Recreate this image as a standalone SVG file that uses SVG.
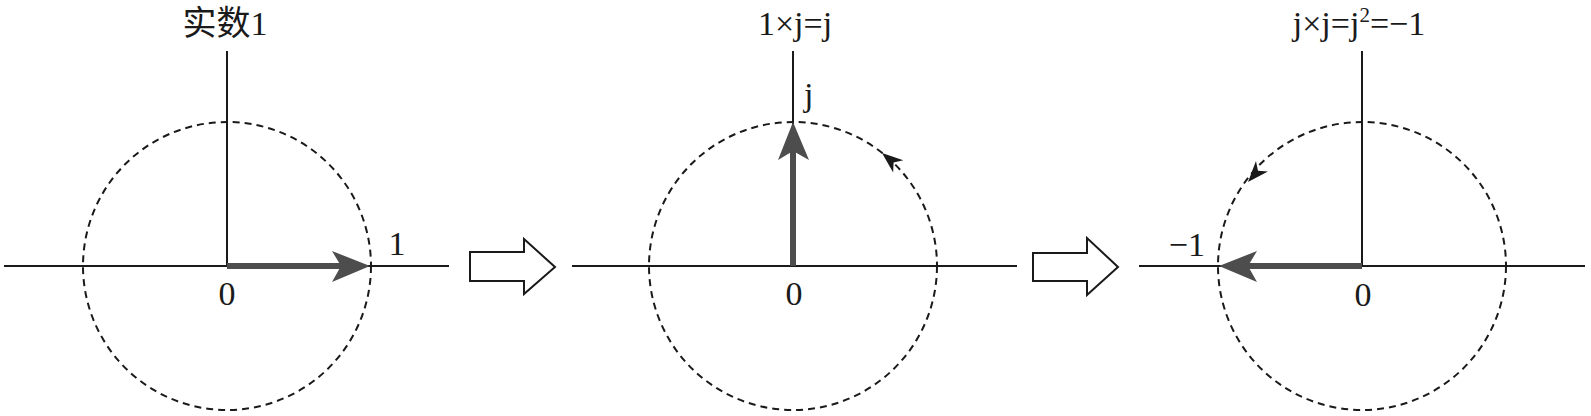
<svg xmlns="http://www.w3.org/2000/svg" width="1591" height="416" viewBox="0 0 1591 416">
<style>
.ax{stroke:#1a1a1a;stroke-width:2;fill:none}
.circ{stroke:#1a1a1a;stroke-width:2;fill:none;stroke-dasharray:7 5}
.vec{stroke:#4d4d4d;stroke-width:6;fill:none}
.head{fill:#4d4d4d}
.small{fill:#1a1a1a}
.blk{fill:#fff;stroke:#1a1a1a;stroke-width:2;stroke-linejoin:miter}
text{font-family:"Liberation Serif","Noto Sans CJK SC",serif;font-size:34px;fill:#1a1a1a}
.mid{text-anchor:middle}
</style>
<rect width="1591" height="416" fill="#fff"/>
<g id="panel1">
  <line class="ax" x1="4" y1="266" x2="449" y2="266"/>
  <line class="ax" x1="227" y1="51" x2="227" y2="266"/>
  <circle class="circ" cx="227" cy="266" r="144"/>
  <text class="mid" x="225" y="35">实数1</text>
  <text class="mid" x="227" y="305">0</text>
  <text class="mid" x="397" y="255">1</text>
</g>
<g id="panel2">
  <line class="ax" x1="572" y1="266" x2="1017" y2="266"/>
  <line class="ax" x1="793" y1="51" x2="793" y2="266"/>
  <circle class="circ" cx="793" cy="266" r="144"/>
  <text class="mid" x="795" y="35">1×j=j</text>
  <text x="804" y="106">j</text>
  <text class="mid" x="794" y="305">0</text>
</g>
<g id="panel3">
  <line class="ax" x1="1139" y1="266" x2="1585" y2="266"/>
  <line class="ax" x1="1362" y1="51" x2="1362" y2="266"/>
  <circle class="circ" cx="1362" cy="266" r="144"/>
  <text class="mid" x="1359" y="35">j×j=j<tspan dy="-13" font-size="21">2</tspan><tspan dy="13">=−1</tspan></text>
  <text x="1205" y="256" text-anchor="end">−1</text>
  <text class="mid" x="1363" y="306">0</text>
</g>
<g id="connectors">
  <line class="vec" x1="227" y1="266" x2="345" y2="266"/>
  <path class="head" d="M370,266 L332,251 L341,266 L332,282 Z"/>
  <line class="vec" x1="793" y1="266" x2="793" y2="148"/>
  <path class="head" d="M793,122 L778,160 L793,151 L809,160 Z"/>
  <line class="vec" x1="1362" y1="266" x2="1244" y2="266"/>
  <path class="head" d="M1219,266 L1257,251 L1248,266 L1257,282 Z"/>
  <path class="small" transform="translate(882,153) rotate(-140.6)" d="M0,0 L-21,-8 L-15,0 L-21,8 Z"/>
  <path class="small" transform="translate(1248,182) rotate(131.6)" d="M0,0 L-21,-8 L-15,0 L-21,8 Z"/>
  <polygon class="blk" points="470,252 524,252 524,239 555,267 524,294 524,281 470,281"/>
  <polygon class="blk" points="1033,253 1087,253 1087,238 1118,267 1087,295 1087,281 1033,281"/>
</g>
</svg>
